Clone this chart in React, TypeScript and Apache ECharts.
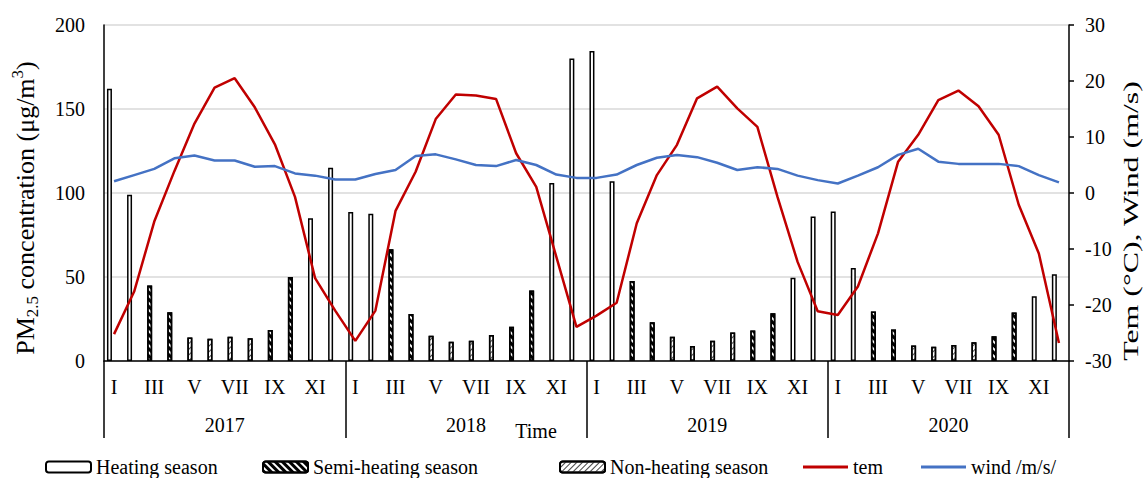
import React, { useEffect, useRef } from "react";
import * as echarts from "echarts";

// Calendar labels
const months = ["I", "II", "III", "IV", "V", "VI", "VII", "VIII", "IX", "X", "XI", "XII"];
const years = ["2017", "2018", "2019", "2020"];

// Season of each calendar month: H = heating, S = semi-heating, N = non-heating
const monthSeason = ["H", "H", "S", "S", "N", "N", "N", "N", "S", "S", "H", "H"];

// Monthly PM2.5 concentration (µg/m³)
const pm2017 = [162, 99, 45, 29, 14, 13.3, 14.5, 13.5, 18.5, 50, 85, 115];
const pm2018 = [88.7, 87.7, 66.5, 28, 15, 11.5, 12, 15.5, 20.4, 42, 106, 180];
const pm2019 = [184.5, 107, 47.6, 23, 14.5, 9, 12, 16.9, 18.2, 28.4, 49.6, 86];
const pm2020 = [89, 55.3, 29.4, 18.8, 9.3, 8.5, 9.5, 11.1, 14.7, 28.8, 38.5, 51.6];

// Monthly mean temperature (°C)
const tem2017 = [-25.2, -17.6, -5.1, 3.9, 12.4, 18.8, 20.5, 15.3, 8.7, -0.7, -15.2, -21.0];
const tem2018 = [-26.4, -21.0, -3.2, 3.8, 13.2, 17.6, 17.4, 16.8, 7.1, 1.1, -11.4, -23.9];
const tem2019 = [-21.9, -19.6, -5.4, 3.2, 8.6, 16.9, 19.0, 15.1, 11.8, -0.7, -12.3, -21.1];
const tem2020 = [-21.8, -16.7, -7.2, 5.6, 10.4, 16.6, 18.3, 15.5, 10.4, -2.1, -10.8, -26.8];

// Monthly mean wind speed (m/s)
const wind2017 = [2.1, 3.2, 4.3, 6.2, 6.7, 5.8, 5.8, 4.7, 4.8, 3.5, 3.1, 2.4];
const wind2018 = [2.4, 3.4, 4.1, 6.6, 6.9, 6.0, 5.0, 4.8, 5.9, 5.0, 3.3, 2.7];
const wind2019 = [2.7, 3.3, 5.0, 6.3, 6.8, 6.4, 5.4, 4.1, 4.6, 4.3, 3.1, 2.3];
const wind2020 = [1.7, 3.1, 4.6, 6.8, 7.9, 5.6, 5.2, 5.2, 5.2, 4.8, 3.2, 1.9];

const FONT = "'Liberation Serif', 'Times New Roman', serif";

export default function App() {
  const ref = useRef<HTMLDivElement>(null);

  useEffect(() => {
    if (!ref.current) return;
    const chart = echarts.init(ref.current, undefined, { renderer: "svg" });

    const categories = years.flatMap((y) => months.map((m) => `${y}|${m}`));
    const pm = [...pm2017, ...pm2018, ...pm2019, ...pm2020];
    const tem = [...tem2017, ...tem2018, ...tem2019, ...tem2020];
    const wind = [...wind2017, ...wind2018, ...wind2019, ...wind2020];
    const bySeason = (code: string) =>
      pm.map((v, i) => (monthSeason[i % 12] === code ? v : "-"));

    const barBase = {
      type: "bar" as const,
      stack: "pm",
      barWidth: 5,
      barGap: "84%",
    };
    const border = { borderColor: "#000", borderWidth: 1.5 };

    const legendCommon = {
      top: 457,
      padding: 0,
      itemWidth: 45,
      itemHeight: 11,
      itemGap: 0,
      selectedMode: false,
      textStyle: { fontFamily: FONT, fontSize: 20, color: "#000" },
    };
    const lineLegend = { ...legendCommon, itemHeight: 3, icon: "rect" };

    const axisText = { fontFamily: FONT, fontSize: 20, color: "#000" };

    chart.setOption({
      animation: false,
      backgroundColor: "#fff",
      grid: { left: 104, right: 75, top: 25, bottom: 117, containLabel: false },
      legend: [
        { ...legendCommon, left: 45, data: ["Heating season"] },
        { ...legendCommon, left: 262, data: ["Semi-heating season"] },
        { ...legendCommon, left: 559, data: ["Non-heating season"] },
        { ...lineLegend, left: 803, data: ["tem"] },
        { ...lineLegend, left: 921, data: ["wind /m/s/"] },
      ],
      xAxis: [
        {
          type: "category",
          data: categories,
          boundaryGap: true,
          axisLine: { onZero: false, lineStyle: { color: "#000", width: 1.5 } },
          axisTick: { show: false },
          axisLabel: {
            ...axisText,
            interval: 1,
            margin: 16,
            formatter: (v: string) => v.split("|")[1],
          },
          splitLine: { show: false },
        },
        {
          type: "category",
          data: years,
          position: "bottom",
          boundaryGap: true,
          axisLine: { show: false, onZero: false },
          axisTick: { show: true, length: 77, lineStyle: { color: "#000", width: 1.5 } },
          axisLabel: { ...axisText, margin: 54 },
          splitLine: { show: false },
        },
      ],
      yAxis: [
        {
          type: "value",
          min: 0,
          max: 200,
          interval: 50,
          position: "left",
          axisLine: { show: true, lineStyle: { color: "#000", width: 1.5 } },
          axisTick: { show: false },
          axisLabel: { ...axisText, margin: 19 },
          splitLine: { show: true, lineStyle: { color: "#d9d9d9", width: 1.5 } },
        },
        {
          type: "value",
          min: -30,
          max: 30,
          interval: 10,
          position: "right",
          axisLine: { show: true, lineStyle: { color: "#000", width: 1.5 } },
          axisTick: { show: true, length: 5, lineStyle: { color: "#000", width: 1.5 } },
          axisLabel: { ...axisText, margin: 16 },
          splitLine: { show: false },
        },
      ],
      series: [
        {
          ...barBase,
          name: "Heating season",
          data: bySeason("H"),
          itemStyle: { color: "#fff", ...border },
        },
        {
          ...barBase,
          name: "Semi-heating season",
          data: bySeason("S"),
          itemStyle: {
            color: "#fff",
            ...border,
            decal: {
              symbol: "rect",
              symbolSize: 1,
              dashArrayX: [1, 0],
              dashArrayY: [3, 2],
              rotation: Math.PI / 4,
              color: "#000",
              backgroundColor: "#fff",
            },
          },
        },
        {
          ...barBase,
          name: "Non-heating season",
          data: bySeason("N"),
          itemStyle: {
            color: "#fff",
            ...border,
            decal: {
              symbol: "rect",
              symbolSize: 1,
              dashArrayX: [1, 0],
              dashArrayY: [1, 2.5],
              rotation: -Math.PI / 4,
              color: "#444",
              backgroundColor: "#fff",
            },
          },
        },
        // empty second stack that shifts the season bars left of each month centre
        { type: "bar", name: "pad", stack: "pad", barWidth: 5, barGap: "84%", data: [] },
        {
          type: "line",
          name: "tem",
          yAxisIndex: 1,
          data: tem,
          symbol: "none",
          color: "#C00000",
          itemStyle: { color: "#C00000" },
          lineStyle: { color: "#C00000", width: 2.5 },
        },
        {
          type: "line",
          name: "wind /m/s/",
          yAxisIndex: 1,
          data: wind,
          symbol: "none",
          color: "#4472C4",
          itemStyle: { color: "#4472C4" },
          lineStyle: { color: "#4472C4", width: 2.5 },
        },
      ],
      graphic: [
        {
          type: "text",
          x: 536,
          y: 431,
          style: {
            text: "Time",
            fontFamily: FONT,
            fontSize: 20,
            fill: "#000",
            align: "center",
            verticalAlign: "middle",
          },
        },
        {
          type: "text",
          x: 25,
          y: 208,
          rotation: Math.PI / 2,
          style: {
            text: "PM{sub|2.5} concentration (μg/m{sup|3})",
            fontFamily: FONT,
            fontSize: 26,
            lineHeight: 32,
            fill: "#000",
            align: "center",
            verticalAlign: "middle",
            rich: {
              sub: { fontFamily: FONT, fontSize: 17, lineHeight: 17, verticalAlign: "bottom", fill: "#000" },
              sup: { fontFamily: FONT, fontSize: 17, lineHeight: 17, verticalAlign: "top", fill: "#000" },
            },
          },
        },
        {
          type: "text",
          x: 1131,
          y: 221,
          rotation: Math.PI / 2,
          scaleX: 1.45,
          style: {
            text: "Tem (°C), Wind (m/s)",
            fontFamily: FONT,
            fontSize: 22,
            fill: "#000",
            align: "center",
            verticalAlign: "middle",
          },
        },
      ],
    });

    return () => chart.dispose();
  }, []);

  return (
    <div
      ref={ref}
      style={{ position: "fixed", left: 0, top: 0, width: 1144, height: 478, background: "#fff" }}
    />
  );
}
